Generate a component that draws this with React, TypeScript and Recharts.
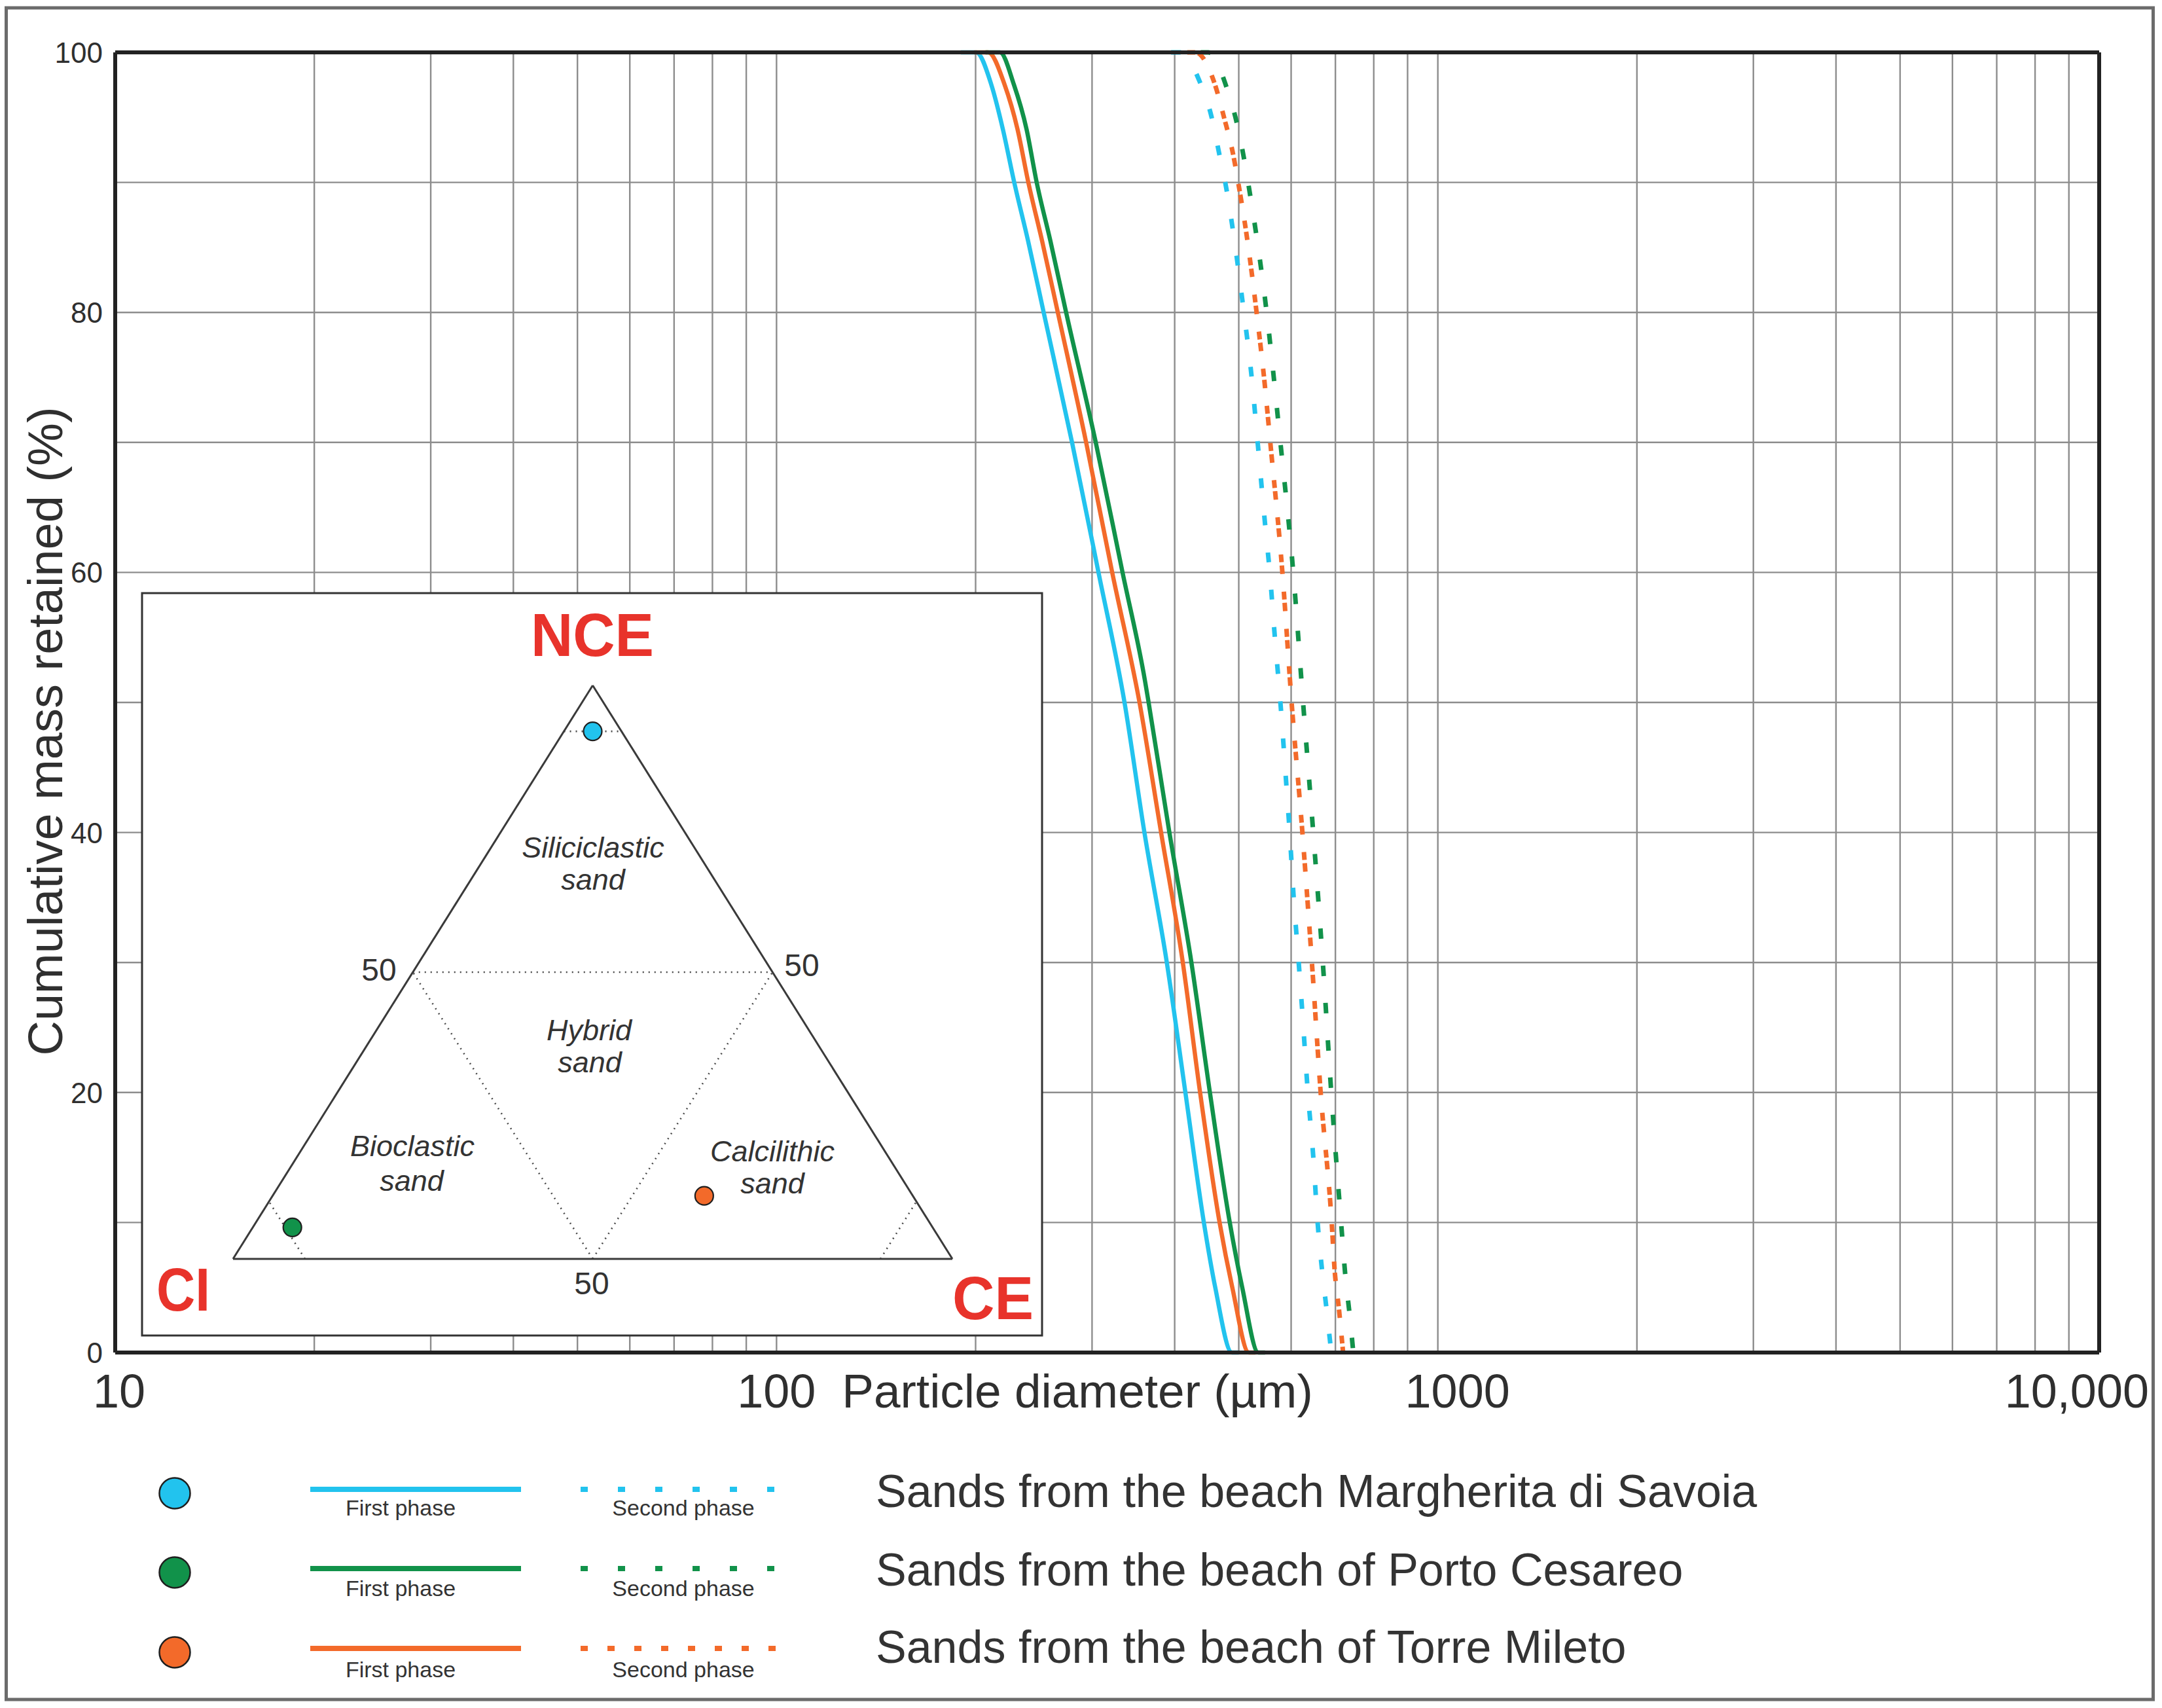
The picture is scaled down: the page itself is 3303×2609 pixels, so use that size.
import React from "react";
import {
  LineChart,
  Line,
  XAxis,
  YAxis,
  CartesianGrid,
  ReferenceLine,
  ScatterChart,
  Scatter,
} from "recharts";

// ---------------- DATA ----------------
// Grid / tick values of the grain-size chart (log x axis, µm)
const xGridValues = [
  10, 20, 30, 40, 50, 60, 70, 80, 90,
  100, 200, 300, 400, 500, 600, 700, 800, 900,
  1000, 2000, 3000, 4000, 5000, 6000, 7000, 8000, 9000, 10000,
];
const xLabeledValues = [10, 100, 1000, 10000];
const xLabelTexts = ["10", "100", "1000", "10,000"];
const yGridValues = [0, 10, 20, 30, 40, 50, 60, 70, 80, 90, 100];
const yLabeledValues = [0, 20, 40, 60, 80, 100];

// Cumulative mass retained (%) vs particle diameter (µm)
const margheritaFirst = [
  { d: 190, v: 100 }, { d: 200.4, v: 100 }, { d: 211.3, v: 97.5 }, { d: 219.9, v: 94.1 },
  { d: 228.8, v: 90 }, { d: 240.1, v: 85.5 }, { d: 253.5, v: 80 },
  { d: 279.8, v: 70 }, { d: 306.8, v: 60 },
  { d: 335.9, v: 50 }, { d: 360, v: 40 }, { d: 389.2, v: 30 }, { d: 415.2, v: 20 },
  { d: 442.8, v: 10 }, { d: 460.7, v: 5 }, { d: 488.3, v: 0 }, { d: 500, v: 0 },
];
const portoFirst = [
  { d: 207, v: 100 }, { d: 217.7, v: 100 }, { d: 228.6, v: 97.5 }, { d: 238.8, v: 94.1 },
  { d: 247.4, v: 90 }, { d: 259.5, v: 85.5 }, { d: 274.1, v: 80 },
  { d: 303.9, v: 70 }, { d: 333.6, v: 60 }, { d: 360.9, v: 51.6 },
  { d: 365.3, v: 50 }, { d: 392.7, v: 40 }, { d: 424.0, v: 30 }, { d: 452.2, v: 20 },
  { d: 484.6, v: 10 }, { d: 506.1, v: 5 }, { d: 535.4, v: 0 }, { d: 548, v: 0 },
];
const torreFirst = [
  { d: 199, v: 100 }, { d: 209, v: 100 }, { d: 221.3, v: 97.5 }, { d: 231.4, v: 94.1 },
  { d: 240.3, v: 90 }, { d: 252.1, v: 85.5 }, { d: 266.3, v: 80 },
  { d: 293.9, v: 70 }, { d: 321.8, v: 60 },
  { d: 353.9, v: 50 }, { d: 381.5, v: 40 }, { d: 411.5, v: 30 }, { d: 437, v: 20 },
  { d: 467.7, v: 10 }, { d: 488.9, v: 5 }, { d: 518, v: 0 }, { d: 530, v: 0 },
];
const margheritaSecond = [
  { d: 395, v: 100 }, { d: 408, v: 100 }, { d: 436, v: 97.8 }, { d: 455, v: 95 },
  { d: 468, v: 92 }, { d: 477, v: 90 }, { d: 490, v: 86.3 }, { d: 509, v: 80 },
  { d: 523, v: 75 }, { d: 534, v: 70 }, { d: 548, v: 63.7 }, { d: 557, v: 60 },
  { d: 567, v: 55 }, { d: 578, v: 50 }, { d: 590, v: 43.7 }, { d: 597, v: 40 },
  { d: 605, v: 35.2 }, { d: 616, v: 30 }, { d: 623, v: 26.6 }, { d: 636, v: 20 },
  { d: 648, v: 15.1 }, { d: 658, v: 10 }, { d: 668, v: 6.4 }, { d: 678.5, v: 3.4 },
  { d: 690, v: 0 },
];
const portoSecond = [
  { d: 438, v: 100 }, { d: 450, v: 100 }, { d: 480, v: 97.2 }, { d: 498, v: 94.3 },
  { d: 511, v: 91.4 }, { d: 516.5, v: 90 }, { d: 551, v: 80 }, { d: 578, v: 70 },
  { d: 604.5, v: 60 }, { d: 625.5, v: 50 }, { d: 648, v: 40 }, { d: 670, v: 30 },
  { d: 690, v: 20 }, { d: 714, v: 10 }, { d: 725, v: 5.8 }, { d: 736, v: 2.8 },
  { d: 745, v: 0 },
];
const torreSecond = [
  { d: 418, v: 100 }, { d: 430, v: 100 }, { d: 459, v: 97.7 }, { d: 475, v: 95 },
  { d: 491, v: 92 }, { d: 499, v: 90 }, { d: 513, v: 86.2 }, { d: 522, v: 83.4 },
  { d: 532, v: 80 }, { d: 546, v: 75 }, { d: 558, v: 70 }, { d: 582, v: 60 },
  { d: 601, v: 50 }, { d: 624, v: 40 }, { d: 645, v: 30 }, { d: 665, v: 20 },
  { d: 691, v: 10 }, { d: 698, v: 6.4 }, { d: 708.5, v: 3.4 }, { d: 719, v: 0 },
];

// Ternary inset composition (%) – NCE / CI / CE
const ternarySamples = ["Margherita di Savoia", "Porto Cesareo", "Torre Mileto"];
const ternaryNCE = [92, 5.5, 11];
const ternaryCI = [4, 89, 29];
const ternaryCE = [4, 5.5, 60];
const ternaryBoundaryLevel = 50;
const ternaryCornerNCE = 92;
const ternaryCornerCI = 90;
const ternaryCornerCE = 90;

const sampleNames = [
  "Sands from the beach Margherita di Savoia",
  "Sands from the beach of Porto Cesareo",
  "Sands from the beach of Torre Mileto",
];
const phaseNames = ["First phase", "Second phase"];

// ---------------- STYLE ----------------
const W = 3303;
const H = 2609;
const FONT = '"Liberation Sans", Arial, Helvetica, sans-serif';
const CYAN = "#22C3EE";
const GREEN = "#11924A";
const ORANGE = "#F36A2A";
const sampleColors = [CYAN, GREEN, ORANGE];
const TEXT = "#2f2f2f";
const FRAME = "#222222";
const GRID = "#8d8d8d";
const RED = "#E8332B";

function XTick(props: any) {
  const { x, y, payload } = props;
  const idx = xLabeledValues.indexOf(payload.value);
  if (idx < 0) return <g />;
  let dx = 0;
  let anchor: "middle" | "end" = "middle";
  if (payload.value === 10) dx = 6;
  if (payload.value === 1000) dx = 30;
  if (payload.value === 10000) {
    dx = 76;
    anchor = "end";
  }
  return (
    <text x={x + dx} y={y + 84} textAnchor={anchor} fontSize={72} fontFamily={FONT} fill={TEXT}>
      {xLabelTexts[idx]}
    </text>
  );
}

function YTick(props: any) {
  const { x, y, payload } = props;
  if (!yLabeledValues.includes(payload.value)) return <g />;
  return (
    <text x={x - 19} y={y + 16} textAnchor="end" fontSize={44} fontFamily={FONT} fill={TEXT}>
      {String(payload.value)}
    </text>
  );
}

function TernaryDot(props: any) {
  const { cx, cy, fill } = props;
  if (cx == null || cy == null) return <g />;
  return <circle cx={cx} cy={cy} r={14} fill={fill} stroke="#1f1f1f" strokeWidth={2.2} />;
}

function Inset() {
  const points = ternarySamples.map((name, i) => ({
    name,
    x: ternaryCE[i] + ternaryNCE[i] / 2,
    y: ternaryNCE[i],
  }));
  const L = ternaryBoundaryLevel;
  const edges = [
    [{ x: 0, y: 0 }, { x: 50, y: 100 }],
    [{ x: 50, y: 100 }, { x: 100, y: 0 }],
    [{ x: 0, y: 0 }, { x: 100, y: 0 }],
  ];
  const dotted = [
    // 50 % boundaries
    [{ x: L / 2, y: L }, { x: 100 - L / 2, y: L }],
    [{ x: 100 - L, y: 0 }, { x: (100 - L) / 2, y: 100 - L }],
    [{ x: L, y: 0 }, { x: L + (100 - L) / 2, y: 100 - L }],
    // corner guides
    [{ x: ternaryCornerNCE / 2, y: ternaryCornerNCE }, { x: 100 - ternaryCornerNCE / 2, y: ternaryCornerNCE }],
    [{ x: 100 - ternaryCornerCI, y: 0 }, { x: (100 - ternaryCornerCI) / 2, y: 100 - ternaryCornerCI }],
    [{ x: ternaryCornerCE, y: 0 }, { x: ternaryCornerCE + (100 - ternaryCornerCE) / 2, y: 100 - ternaryCornerCE }],
  ];
  return (
    <ScatterChart width={1375} height={1134} margin={{ top: 141, right: 137, bottom: 117, left: 139 }}>
      <XAxis type="number" dataKey="x" domain={[0, 100]} hide />
      <YAxis type="number" dataKey="y" domain={[0, 100]} hide />
      {dotted.map((seg, i) => (
        <ReferenceLine key={"d" + i} segment={seg} stroke="#4a4a4a" strokeWidth={2.6} strokeDasharray="2 7" />
      ))}
      {edges.map((seg, i) => (
        <ReferenceLine key={"e" + i} segment={seg} stroke="#3a3a3a" strokeWidth={3} />
      ))}
      {points.map((p, i) => (
        <Scatter
          key={p.name}
          name={p.name}
          data={[p]}
          fill={sampleColors[i]}
          shape={(props: any) => <TernaryDot {...props} fill={sampleColors[i]} />}
          isAnimationActive={false}
        />
      ))}
    </ScatterChart>
  );
}

export default function App() {
  const lineCommon = { dataKey: "v", type: "monotone" as const, dot: false, isAnimationActive: false, activeDot: false };
  return (
    <div style={{ position: "absolute", left: 0, top: 0, width: W, height: H, background: "#fff", fontFamily: FONT }}>
      <div style={{ position: "absolute", left: 0, top: 0 }}>
        <LineChart width={W} height={H} margin={{ top: 80, right: 96, bottom: 513, left: 116 }}>
          <CartesianGrid stroke={GRID} strokeWidth={2.4} />
          <XAxis
            type="number"
            dataKey="d"
            scale="log"
            domain={[10, 10000]}
            ticks={xGridValues}
            interval={0}
            tickSize={0}
            tickMargin={0}
            height={30}
            axisLine={{ stroke: FRAME, strokeWidth: 6 }}
            tick={(p: any) => <XTick {...p} />}
            allowDataOverflow
          />
          <YAxis
            type="number"
            domain={[0, 100]}
            ticks={yGridValues}
            interval={0}
            tickSize={0}
            tickMargin={0}
            width={60}
            axisLine={{ stroke: FRAME, strokeWidth: 6 }}
            tick={(p: any) => <YTick {...p} />}
          />
          <Line {...lineCommon} data={margheritaFirst} stroke={CYAN} strokeWidth={6.5} />
          <Line {...lineCommon} data={torreFirst} stroke={ORANGE} strokeWidth={6.5} />
          <Line {...lineCommon} data={portoFirst} stroke={GREEN} strokeWidth={6.5} />
          <Line {...lineCommon} data={margheritaSecond} stroke={CYAN} strokeWidth={7} strokeDasharray="15 42" />
          <Line {...lineCommon} data={portoSecond} stroke={GREEN} strokeWidth={7} strokeDasharray="16 41" />
          <Line {...lineCommon} data={torreSecond} stroke={ORANGE} strokeWidth={7} strokeDasharray="12 5 13 27" />
          <ReferenceLine y={100} stroke={FRAME} strokeWidth={6} />
          <ReferenceLine x={10000} stroke={FRAME} strokeWidth={6} />
        </LineChart>
      </div>

      <div style={{ position: "absolute", left: 217, top: 906, width: 1375, height: 1134, background: "#fff" }}>
        <Inset />
      </div>

      <svg width={W} height={H} style={{ position: "absolute", left: 0, top: 0, pointerEvents: "none" }}>
        {/* outer figure frame */}
        <rect x={9.5} y={12} width={3280} height={2584} fill="none" stroke="#6b6b6b" strokeWidth={5} />
        {/* axis titles */}
        <text
          x={95}
          y={1117}
          transform="rotate(-90 95 1117)"
          textAnchor="middle"
          fontSize={74}
          fontFamily={FONT}
          fill={TEXT}
        >
          Cumulative mass retained (%)
        </text>
        <text x={1646} y={2150} textAnchor="middle" fontSize={73} fontFamily={FONT} fill={TEXT}>
          Particle diameter (µm)
        </text>

        {/* inset frame and annotations */}
        <rect x={217} y={906} width={1375} height={1134} fill="none" stroke="#333" strokeWidth={3} />
        <text x={905} y={1002} textAnchor="middle" fontSize={92} fontWeight="bold" fontFamily={FONT} fill={RED} textLength={188} lengthAdjust="spacingAndGlyphs">NCE</text>
        <text x={239} y={2002} fontSize={92} fontWeight="bold" fontFamily={FONT} fill={RED} textLength={82} lengthAdjust="spacingAndGlyphs">CI</text>
        <text x={1455} y={2015} fontSize={92} fontWeight="bold" fontFamily={FONT} fill={RED} textLength={124} lengthAdjust="spacingAndGlyphs">CE</text>

        <g fontSize={45} fontStyle="italic" fontFamily={FONT} fill="#333" textAnchor="middle">
          <text x={906} y={1310}>Siliciclastic</text>
          <text x={906} y={1359}>sand</text>
          <text x={900} y={1589}>Hybrid</text>
          <text x={901} y={1638}>sand</text>
          <text x={630} y={1766}>Bioclastic</text>
          <text x={629} y={1819}>sand</text>
          <text x={1180} y={1774}>Calcilithic</text>
          <text x={1180} y={1823}>sand</text>
        </g>
        <g fontSize={48} fontFamily={FONT} fill="#333" textAnchor="middle">
          <text x={579} y={1498}>{String(ternaryBoundaryLevel)}</text>
          <text x={1225} y={1491}>{String(ternaryBoundaryLevel)}</text>
          <text x={904} y={1977}>{String(ternaryBoundaryLevel)}</text>
        </g>

        {/* legend */}
        {sampleNames.map((name, i) => {
          const rowY = [2275, 2396, 2518][i];
          const circleY = [2281, 2402, 2524][i];
          const textY = [2302, 2422, 2540][i];
          const phaseY = [2315, 2438, 2562][i];
          const dash = i === 2 ? "11 30" : "11 46";
          return (
            <g key={name}>
              <circle cx={267} cy={circleY} r={23.5} fill={sampleColors[i]} stroke="#1f1f1f" strokeWidth={2.5} />
              <line x1={474} x2={796} y1={rowY} y2={rowY} stroke={sampleColors[i]} strokeWidth={8} />
              <line x1={887} x2={1200} y1={rowY} y2={rowY} stroke={sampleColors[i]} strokeWidth={8} strokeDasharray={dash} />
              <text x={612} y={phaseY} textAnchor="middle" fontSize={34} fontFamily={FONT} fill="#333">
                {phaseNames[0]}
              </text>
              <text x={1044} y={phaseY} textAnchor="middle" fontSize={34} fontFamily={FONT} fill="#333">
                {phaseNames[1]}
              </text>
              <text x={1338} y={textY} fontSize={70} fontFamily={FONT} fill="#333">
                {name}
              </text>
            </g>
          );
        })}
      </svg>
    </div>
  );
}
